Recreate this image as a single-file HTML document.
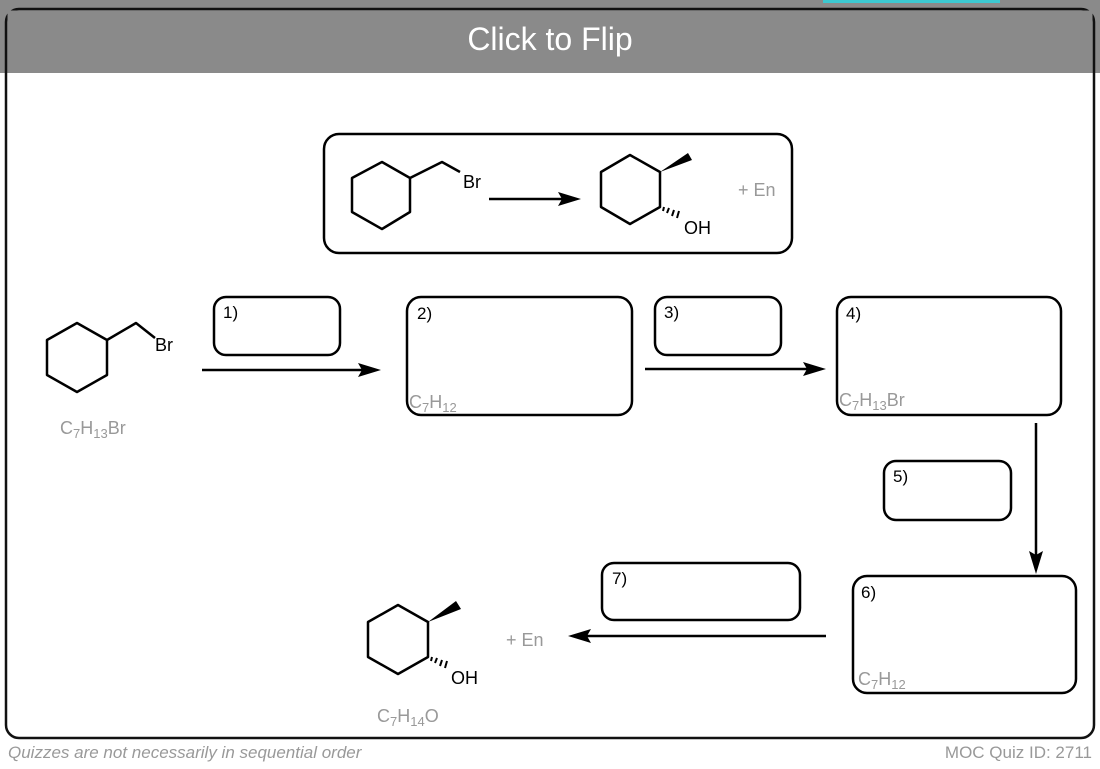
<!DOCTYPE html>
<html><head><meta charset="utf-8"><style>
html,body{margin:0;padding:0;background:#fff;}
svg{display:block;font-family:"Liberation Sans",sans-serif;}
</style></head><body>
<svg width="1100" height="769" viewBox="0 0 1100 769" xmlns="http://www.w3.org/2000/svg">
<rect x="0" y="0" width="1100" height="73" fill="#8a8a8a"/>
<rect x="823" y="0" width="177" height="3" fill="#3cc8d0"/>
<rect x="6" y="9" width="1088" height="729" rx="13" fill="none" stroke="#111" stroke-width="2.5"/>
<rect x="7.5" y="10.5" width="1085" height="62" fill="#8a8a8a"/>
<text x="550" y="50" text-anchor="middle" fill="#fff" font-size="32">Click to Flip</text>

<g fill="none" stroke="#000" stroke-width="2.5" stroke-linejoin="round">
<rect x="324" y="134" width="468" height="119" rx="15"/>
<polygon points="382,162 410,178 410,212 382,229 352,212 352,178"/>
<polyline points="410,178 442,162 460,172"/>
<polygon points="630,155 660,172 660,207 630,224 601,207 601,172"/>
<polygon points="77,323 107,340 107,375 77,392 47,375 47,340"/>
<polyline points="107,340 136,323 155,338"/>
<polygon points="398,605 428,622 428,657 398,674 368,657 368,622"/>
<rect x="214" y="297" width="126" height="58" rx="12"/>
<rect x="407" y="297" width="225" height="118" rx="14"/>
<rect x="655" y="297" width="126" height="58" rx="12"/>
<rect x="837" y="297" width="224" height="118" rx="14"/>
<rect x="884" y="461" width="127" height="59" rx="12"/>
<rect x="853" y="576" width="223" height="117" rx="14"/>
<rect x="602" y="563" width="198" height="57" rx="12"/>
<line x1="489" y1="199" x2="565" y2="199"/>
<line x1="202" y1="370" x2="365" y2="370"/>
<line x1="645" y1="369" x2="810" y2="369"/>
<line x1="1036" y1="423" x2="1036" y2="558"/>
<line x1="826" y1="636" x2="584" y2="636"/>
</g>
<g fill="#000">
<polygon points="581,199 558,192 562,199 558,206"/>
<polygon points="381,370 358,363 362,370 358,377"/>
<polygon points="826,369 803,362 807,369 803,376"/>
<polygon points="1036,574 1029,551 1036,555 1043,551"/>
<polygon points="568,636 591,629 587,636 591,643"/>
<polygon points="660,172 688,153 692,160"/>
<polygon points="428,622 456,601 461,609"/>
</g>
<g stroke="#000" stroke-width="2">
<line x1="664" y1="207" x2="663" y2="211"/><line x1="669" y1="208" x2="667" y2="213"/><line x1="674" y1="210" x2="672" y2="216"/><line x1="679" y1="211" x2="677" y2="218"/>
<line x1="432" y1="657" x2="431" y2="661"/><line x1="437" y1="658" x2="435" y2="663"/><line x1="442" y1="660" x2="440" y2="666"/><line x1="447" y1="661" x2="445" y2="668"/>
</g>
<g font-size="18" fill="#000">
<text x="463" y="188">Br</text>
<text x="684" y="234">OH</text>
<text x="155" y="351">Br</text>
<text x="451" y="684">OH</text>
</g>
<g font-size="18" fill="#999">
<text x="738" y="196">+ En</text>
<text x="506" y="646">+ En</text>
<text x="60" y="434">C<tspan font-size="13" dy="4">7</tspan><tspan dy="-4">H</tspan><tspan font-size="13" dy="4">13</tspan><tspan dy="-4">Br</tspan></text>
<text x="377" y="722">C<tspan font-size="13" dy="4">7</tspan><tspan dy="-4">H</tspan><tspan font-size="13" dy="4">14</tspan><tspan dy="-4">O</tspan></text>
<text x="409" y="408">C<tspan font-size="13" dy="4">7</tspan><tspan dy="-4">H</tspan><tspan font-size="13" dy="4">12</tspan></text>
<text x="839" y="406">C<tspan font-size="13" dy="4">7</tspan><tspan dy="-4">H</tspan><tspan font-size="13" dy="4">13</tspan><tspan dy="-4">Br</tspan></text>
<text x="858" y="685">C<tspan font-size="13" dy="4">7</tspan><tspan dy="-4">H</tspan><tspan font-size="13" dy="4">12</tspan></text>
</g>
<g font-size="17" fill="#000">
<text x="223" y="318">1)</text>
<text x="417" y="319">2)</text>
<text x="664" y="318">3)</text>
<text x="846" y="319">4)</text>
<text x="893" y="482">5)</text>
<text x="861" y="598">6)</text>
<text x="612" y="584">7)</text>
</g>
<text x="8" y="758" font-size="17" font-style="italic" fill="#999">Quizzes are not necessarily in sequential order</text>
<text x="1092" y="758" font-size="17" fill="#999" text-anchor="end">MOC Quiz ID: 2711</text>
</svg>
</body></html>
